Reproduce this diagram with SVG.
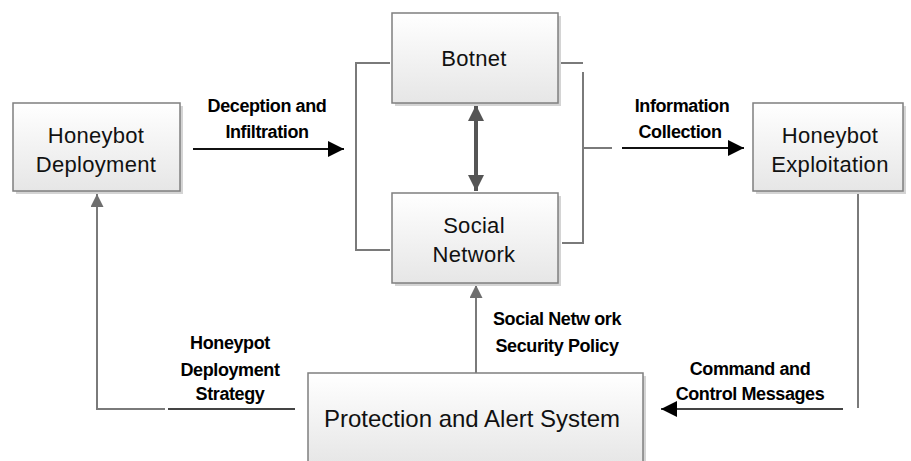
<svg xmlns="http://www.w3.org/2000/svg" width="911" height="461" viewBox="0 0 911 461">
  <style>
    .box { fill: url(#boxFill); stroke: #7f7f7f; stroke-width: 1.5; }
    .shadow { fill: #d4d4d4; }
    .ntext { font-family: "Liberation Sans", Arial, sans-serif; font-size: 22px; fill: #111; text-anchor: middle; letter-spacing: 0.3px; }
    .ltext { font-family: "Liberation Sans", Arial, sans-serif; font-size: 18px; font-weight: bold; fill: #000; text-anchor: middle; letter-spacing: -0.4px; }
    .gray { stroke: #7a7a7a; stroke-width: 2; fill: none; }
    .dark { stroke: #111; stroke-width: 2; fill: none; }
  </style>
  <defs>
    <linearGradient id="boxFill" x1="0" y1="0" x2="0" y2="1">
      <stop offset="0" stop-color="#ffffff"/>
      <stop offset="1" stop-color="#e6e6e6"/>
    </linearGradient>
    <marker id="headBlack" viewBox="0 0 10 10" refX="10" refY="5" markerWidth="16" markerHeight="16" markerUnits="userSpaceOnUse" orient="auto">
      <path d="M0,0 L10,5 L0,10 Z" fill="#000"/>
    </marker>
    <marker id="headGray" viewBox="0 0 10 10" refX="10" refY="5" markerWidth="13" markerHeight="13" markerUnits="userSpaceOnUse" orient="auto">
      <path d="M0,0 L10,5 L0,10 Z" fill="#6e6e6e"/>
    </marker>
    <marker id="headThick" viewBox="0 0 10 10" refX="10" refY="5" markerWidth="16" markerHeight="16" markerUnits="userSpaceOnUse" orient="auto-start-reverse">
      <path d="M0,0 L10,5 L0,10 Z" fill="#555"/>
    </marker>
  </defs>

  <rect width="911" height="461" fill="#fff"/>

  <!-- connectors -->
  <g id="connectors">
    <!-- Deception and Infiltration -->
    <line class="dark" x1="193" y1="149" x2="344" y2="149" marker-end="url(#headBlack)"/>
    <!-- left bracket joining Botnet and Social Network -->
    <polyline class="gray" points="390,63 356,63 356,250 390,250"/>
    <!-- right bracket -->
    <polyline class="gray" points="560,63 583,63"/>
    <polyline class="gray" points="562,243 583,243 583,72"/>
    <line class="gray" x1="583" y1="148" x2="612" y2="148"/>
    <!-- Information Collection -->
    <line class="dark" x1="622" y1="148" x2="744" y2="148" marker-end="url(#headBlack)"/>
    <!-- Botnet <-> Social Network -->
    <line x1="476" y1="105" x2="476" y2="191" stroke="#555" stroke-width="4" marker-start="url(#headThick)" marker-end="url(#headThick)"/>
    <!-- Command and Control Messages -->
    <polyline class="gray" points="858,193 858,408"/>
    <line x1="843" y1="409" x2="661" y2="409" stroke="#444" stroke-width="2" marker-end="url(#headBlack)"/>
    <!-- Social Network Security Policy -->
    <line class="gray" x1="476" y1="373" x2="476" y2="285" marker-end="url(#headGray)"/>
    <!-- Honeypot Deployment Strategy -->
    <line x1="295" y1="409" x2="168" y2="409" stroke="#444" stroke-width="2"/>
    <polyline class="gray" points="165,409 97,409 97,194" marker-end="url(#headGray)"/>
  </g>

  <!-- connector labels -->
  <g id="labels">
    <text class="ltext" x="267" y="112">Deception and</text>
    <text class="ltext" x="267" y="138">Infiltration</text>
    <text class="ltext" x="682" y="112">Information</text>
    <text class="ltext" x="680" y="138">Collection</text>
    <text class="ltext" x="557" y="325">Social Netw ork</text>
    <text class="ltext" x="557" y="352">Security Policy</text>
    <text class="ltext" x="750" y="375">Command and</text>
    <text class="ltext" x="750" y="400">Control Messages</text>
    <text class="ltext" x="230" y="349">Honeypot</text>
    <text class="ltext" x="230" y="376">Deployment</text>
    <text class="ltext" x="230" y="400">Strategy</text>
  </g>

  <g id="honeybot-deployment">
    <rect class="shadow" x="16" y="106" width="167" height="88"/>
    <rect class="box" x="13" y="103" width="167" height="88"/>
    <text class="ntext" x="96" y="143">Honeybot</text>
    <text class="ntext" x="96" y="172">Deployment</text>
  </g>

  <g id="botnet">
    <rect class="shadow" x="395" y="16" width="166" height="90"/>
    <rect class="box" x="392" y="13" width="166" height="90"/>
    <text class="ntext" x="474" y="66">Botnet</text>
  </g>

  <g id="social-network">
    <rect class="shadow" x="395" y="196" width="166" height="90"/>
    <rect class="box" x="392" y="193" width="166" height="90"/>
    <text class="ntext" x="474" y="233">Social</text>
    <text class="ntext" x="474" y="262">Network</text>
  </g>

  <g id="honeybot-exploitation">
    <rect class="shadow" x="756" y="106" width="150" height="88"/>
    <rect class="box" x="753" y="103" width="150" height="88"/>
    <text class="ntext" x="830" y="143">Honeybot</text>
    <text class="ntext" x="830" y="172">Exploitation</text>
  </g>

  <g id="protection-alert-system">
    <rect class="shadow" x="311" y="376" width="335" height="92"/>
    <rect class="box" x="308" y="373" width="335" height="92"/>
    <text class="ntext" x="472" y="427" style="font-size:24px;letter-spacing:0">Protection and Alert System</text>
  </g>
</svg>
